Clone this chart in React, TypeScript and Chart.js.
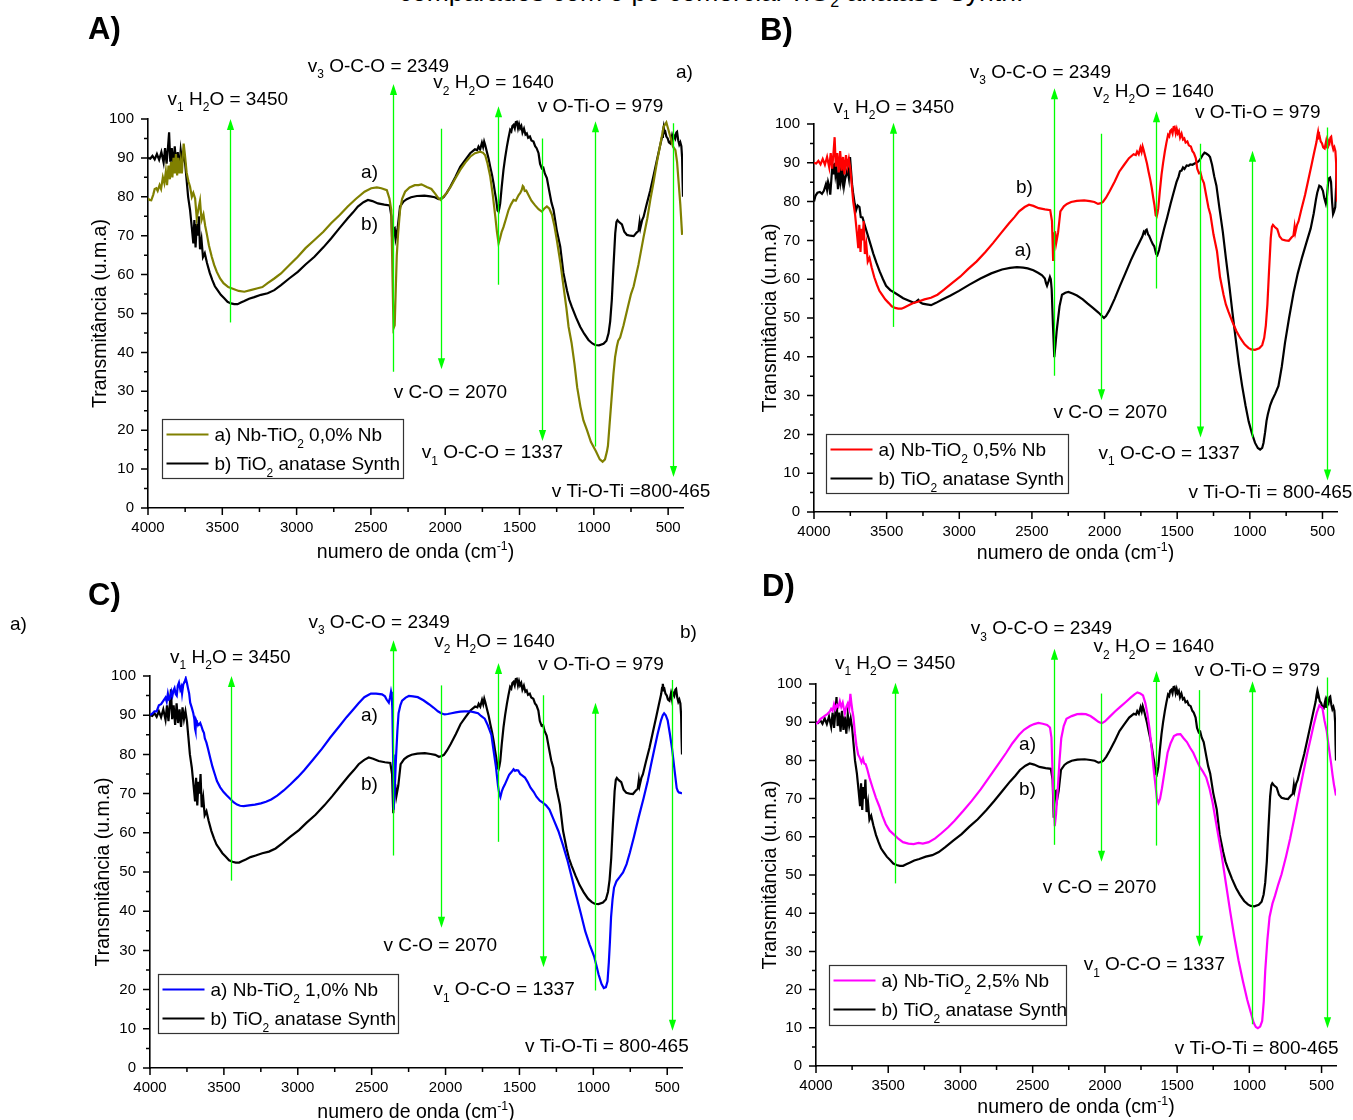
import React, { useEffect, useRef } from 'react';
import { Chart, registerables } from 'chart.js';

Chart.register(...registerables);

const FONT = 'Arial, "Liberation Sans", Helvetica, sans-serif';
const GREEN = '#00ff00';

// ---------------- data ----------------
const xTickValues = [4000, 3500, 3000, 2500, 2000, 1500, 1000, 500];
const yTickValues = [0, 10, 20, 30, 40, 50, 60, 70, 80, 90, 100];

// b) TiO2 anatase Synth (wavenumber, transmittance)
const anatase: [number, number][] = [
  [4000,90],[3985,89.8],[3970,90.5],[3955,89.6],[3940,91],[3925,89.5],[3910,91.5],[3895,88.8],[3885,92.5],[3875,88.5],
  [3865,93],[3858,96.6],[3850,89],[3840,92.5],[3830,87.5],[3820,93],[3810,88],[3800,91.5],[3790,87],[3780,92],
  [3770,89],[3760,91],[3750,88.5],[3740,84.3],[3730,80],[3717,76.6],[3705,72],[3695,68],[3688,74],[3680,67],
  [3672,73],[3665,70],[3658,75],[3650,66.5],[3640,69],[3630,64.5],[3618,65.5],[3603,63],[3585,60.5],[3567,58.6],
  [3550,57],[3532,56],[3510,54.8],[3487,53.9],[3465,53],[3442,52.6],[3420,52.4],[3397,52.4],[3375,52.8],[3352,53.2],
  [3320,53.8],[3285,54.2],[3240,54.8],[3195,55.2],[3150,56],[3105,57.3],[3050,59],[2992,60.7],[2940,62.6],[2880,64.6],
  [2820,67],[2768,69.3],[2710,72],[2656,74.5],[2620,76],[2588,77.5],[2550,78.6],[2520,79.2],[2490,78.9],[2453,78.3],
  [2410,78],[2374,77.8],[2362,75],[2354,65],[2348,71.8],[2340,72],[2333,69.3],[2320,72],[2304,77.5],[2280,78.8],
  [2259,79.4],[2230,79.9],[2191,80.2],[2140,80.3],[2101,80.1],[2070,79.9],[2045,79.4],[2025,79.6],[2011,79.9],[1990,81],
  [1966,82.6],[1930,85.2],[1899,87.7],[1865,89.5],[1832,91.2],[1800,92.2],[1785,92],[1776,92.9],[1765,92.2],[1753,93.9],
  [1745,92.8],[1738,94.2],[1731,93.3],[1720,91.6],[1708,89.8],[1697,87.7],[1685,85.6],[1675,83.5],[1665,81],[1657,79.2],
  [1648,76.5],[1641,76.2],[1636,77],[1630,78.3],[1620,82.5],[1608,86.9],[1597,90],[1585,92.9],[1575,95],[1563,97.2],
  [1555,96.8],[1548,98.2],[1540,98.5],[1532,97.6],[1525,99.2],[1518,99.3],[1510,97.6],[1503,98.7],[1496,97.6],[1488,98.2],
  [1480,96.5],[1470,97.5],[1460,96],[1451,96.3],[1442,95.2],[1430,95.5],[1420,94.5],[1406,94.2],[1395,93],[1385,92.5],
  [1372,91.2],[1362,88.5],[1350,87.3],[1340,87.5],[1330,86],[1316,84.8],[1300,81.5],[1285,78.5],[1271,76.6],[1250,71.5],
  [1226,67.2],[1205,60.5],[1181,56],[1165,53.5],[1148,51.7],[1120,49],[1092,46.6],[1065,44.8],[1036,43.2],[1010,42.3],
  [991,41.9],[965,41.8],[935,42.2],[915,43],[901,44.9],[890,48],[879,53.5],[868,62],[856,70.6],[848,73.5],
  [841,74],[830,73.5],[811,72.9],[795,71],[777,70.2],[755,70],[732,69.9],[712,70.8],[700,71.2],[692,73.5],
  [687,72],[675,74],[665,74.9],[645,78],[620,81.7],[598,85.5],[575,89.5],[558,92.5],[541,95.4],[535,97],
  [530,98],[524,96.5],[519,96.7],[512,95.5],[503,95],[495,94],[485,93.7],[475,95.5],[468,94],[463,95.9],
  [452,95],[445,96.5],[440,96.7],[432,94.5],[425,93.4],[418,94],[411,93],[406,90],[403,84],[400,80]
];

// a) Nb-TiO2 0,0% Nb
const nb00: [number, number][] = [
  [4000,79.6],[3990,79.2],[3978,79.1],[3965,80.5],[3955,82],[3944,82.2],[3935,81.5],[3922,83],[3912,82],[3900,85],
  [3890,83.5],[3880,86.5],[3872,83],[3862,88],[3853,84.5],[3845,89],[3836,85],[3828,90],[3820,86],[3812,91],
  [3804,85.5],[3796,90],[3788,86],[3780,89],[3772,86],[3765,91],[3760,93.7],[3752,91],[3740,86.2],[3728,84],
  [3717,82.6],[3705,80],[3695,81],[3683,79.6],[3672,74.5],[3660,77],[3650,79],[3640,74],[3627,75.5],[3615,72.5],
  [3605,70.6],[3590,67.5],[3571,64.6],[3555,62.5],[3537,60.7],[3515,59],[3492,57.8],[3460,56.8],[3425,56.3],[3390,55.8],
  [3352,55.6],[3310,56],[3262,56.5],[3230,56.8],[3195,57.8],[3150,59],[3105,60.3],[3050,62.4],[2992,64.6],[2940,66.8],
  [2880,68.9],[2820,71],[2768,73.2],[2710,75.3],[2656,77.5],[2600,79.5],[2543,81.3],[2498,82.2],[2460,82.4],[2430,82.2],
  [2393,81.7],[2375,79.5],[2363,76.6],[2355,60],[2348,46.2],[2340,47],[2333,56],[2326,64.9],[2318,70],[2304,76.6],
  [2290,79.5],[2270,81.3],[2240,82.4],[2205,83],[2180,83],[2160,83.2],[2124,82.5],[2093,82],[2068,80.8],[2045,79.6],
  [2030,79.2],[2011,80.1],[1990,81],[1966,82.4],[1935,84.5],[1899,86.9],[1865,88.8],[1832,90.3],[1800,91.2],[1764,91.6],
  [1745,91.3],[1731,90.7],[1715,88.5],[1697,85.2],[1680,80.5],[1663,74.9],[1652,71],[1641,68],[1630,69.5],[1620,71],
  [1608,72.2],[1590,74.5],[1574,76.6],[1558,78],[1540,79.2],[1525,79],[1507,80.4],[1495,81],[1485,81.8],[1478,82.8],
  [1473,82.6],[1465,81.5],[1455,81.6],[1439,80.4],[1420,79],[1395,77.8],[1372,76.8],[1350,76.2],[1333,77],[1316,77.5],
  [1300,77],[1282,75.4],[1265,72.5],[1249,68.9],[1225,63],[1204,56.9],[1185,51.5],[1170,46.6],[1150,42.5],[1130,37],
  [1112,31],[1090,26],[1070,22.5],[1046,20],[1020,17],[986,14.6],[960,12.5],[941,11.9],[925,12.5],[912,14.5],
  [905,16],[895,21],[881,28],[868,34.5],[857,38.8],[845,41.5],[836,43],[823,43.8],[800,47],[775,51],
  [750,55],[732,57],[700,62.5],[665,69.7],[640,74.5],[620,79.2],[597,84],[575,89],[552,93.6],[530,98],
  [512,99.1],[500,97.5],[485,95.4],[468,93],[451,92],[440,89],[429,83.5],[418,78],[406,70.2]
];

// a) Nb-TiO2 0,5% Nb (black curve of panel B)
const nb05: [number, number][] = [
  [4000,80],[3990,81.5],[3976,82.3],[3960,82.5],[3945,82],[3932,82.8],[3918,84.5],[3910,83],[3903,85.1],[3895,84],
  [3888,81.8],[3880,86],[3873,89.7],[3865,87],[3858,90],[3852,86.9],[3845,88.5],[3835,83.2],[3828,87],[3820,85],
  [3814,87.8],[3806,85.5],[3800,88.5],[3793,84.1],[3785,86],[3777,87],[3770,88.3],[3760,86],[3752,91.5],[3745,88],
  [3738,84.5],[3731,82.3],[3720,79.5],[3711,77.7],[3700,79],[3687,78.6],[3678,76],[3666,75.9],[3655,74.5],[3637,72.2],
  [3615,69.5],[3592,66.6],[3570,64.2],[3548,62],[3525,60],[3504,58.3],[3475,57.2],[3445,56.5],[3415,55.8],[3386,55.1],
  [3350,54.5],[3312,53.9],[3295,54.3],[3282,54.7],[3268,54],[3253,53.7],[3225,53.5],[3194,53.3],[3160,53.9],[3120,54.7],
  [3060,55.8],[3002,57],[2930,58.6],[2854,60.2],[2780,61.5],[2706,62.5],[2650,62.9],[2603,63.1],[2560,63],[2529,62.8],
  [2490,62.3],[2455,61.6],[2430,61],[2411,60.2],[2403,59],[2396,58.3],[2385,59.5],[2376,60.6],[2370,60],[2364,57.4],
  [2355,48],[2346,39.9],[2338,43],[2330,46.5],[2322,49.1],[2310,53],[2293,56],[2270,56.5],[2249,56.7],[2220,56.3],
  [2190,55.8],[2150,54.8],[2116,53.7],[2080,52.6],[2042,51.4],[2020,50.6],[2004,50],[1990,50.5],[1968,51.9],[1930,55],
  [1894,58.3],[1857,61.5],[1820,64.8],[1790,67.2],[1761,69.4],[1740,71],[1730,72.2],[1722,71.8],[1717,72.6],[1710,72.8],
  [1700,71.5],[1693,71.2],[1680,70],[1668,69],[1658,68.5],[1645,66.5],[1637,66.2],[1625,67.5],[1614,69.4],[1590,73],
  [1569,75.9],[1545,79.5],[1525,82.3],[1505,85],[1490,86.5],[1481,87.8],[1470,88],[1460,88.8],[1450,88.4],[1435,89.3],
  [1422,89.2],[1410,89.6],[1395,89.5],[1377,89.9],[1360,90.2],[1348,90.6],[1335,91.3],[1325,92],[1312,92.6],[1300,92.4],
  [1285,92],[1274,91.5],[1260,89.5],[1245,86.5],[1230,84.1],[1210,78.5],[1186,72.2],[1165,65.5],[1141,58.3],[1120,51.5],
  [1097,44.5],[1075,38],[1053,32.5],[1030,27.5],[1008,23.3],[985,20.2],[964,17.8],[945,16.5],[929,16.1],[915,16.5],
  [906,17.8],[895,20.5],[885,23.5],[876,25.2],[860,27.5],[847,28.8],[825,30.5],[803,32.5],[780,37.5],[758,43.6],
  [730,50],[699,56.5],[670,61.5],[640,65.7],[610,69.5],[581,73.1],[560,77],[545,80.5],[536,82.3],[522,84.1],
  [510,83.8],[497,82.8],[488,81],[477,79.5],[470,81],[462,84.5],[456,86],[448,86.2],[441,85.1],[434,80],
  [427,76.8],[420,77.5],[412,78.6],[406,84],[400,90]
];

// a) Nb-TiO2 1,0% Nb
const nb10: [number, number][] = [
  [4000,90],[3985,90.4],[3970,91],[3955,91],[3940,92.5],[3925,92.8],[3909,93.7],[3895,94.5],[3887,93.5],[3879,95.5],
  [3871,94],[3864,94.2],[3855,96],[3848,95],[3840,96.4],[3834,96.9],[3826,95.4],[3819,95],[3812,97.5],[3804,98.3],
  [3795,96.5],[3788,97.2],[3783,95.5],[3775,97.8],[3765,98.6],[3758,99.4],[3750,98.2],[3743,96.9],[3735,95.5],[3728,93.2],
  [3718,92],[3707,90.5],[3700,89],[3695,86.5],[3692,86],[3688,88.7],[3683,88.2],[3670,87.5],[3660,88],[3653,87.3],
  [3642,86],[3635,85.5],[3629,84.1],[3618,83],[3607,81.4],[3592,79],[3577,76.8],[3562,75],[3547,73.2],[3525,71.6],
  [3502,70.4],[3480,69.5],[3456,68.6],[3435,67.8],[3411,67.2],[3390,66.9],[3366,66.8],[3330,67],[3290,67.2],[3250,67.5],
  [3215,67.9],[3180,68.5],[3139,69.5],[3095,70.8],[3049,72.4],[3000,74.2],[2958,75.9],[2900,78.5],[2837,81.4],[2780,84.3],
  [2716,87.3],[2670,89.5],[2626,91.4],[2590,93],[2550,94.6],[2520,95.2],[2505,95.5],[2470,95.5],[2430,95.3],[2410,94.8],
  [2399,94],[2390,93.5],[2384,93.2],[2376,94.5],[2369,96],[2364,95],[2360,91.4],[2355,80],[2351,65.9],[2345,70],
  [2336,78.6],[2326,86],[2318,90.5],[2306,92.5],[2294,93.7],[2270,94.5],[2248,94.9],[2220,94.8],[2188,94.6],[2150,93.8],
  [2112,92.8],[2080,91.9],[2052,91],[2030,90.5],[2007,90.2],[1985,90.3],[1960,90.5],[1931,90.7],[1900,90.9],[1870,91],
  [1840,91],[1810,90.8],[1780,90.5],[1760,89.8],[1735,89.1],[1715,87.5],[1700,86],[1690,85],[1675,81],[1659,76.8],
  [1645,72],[1637,70],[1629,69.1],[1620,70.5],[1610,71.5],[1599,72.3],[1585,73.5],[1570,74.8],[1554,75.5],[1540,76.2],
  [1530,75.8],[1520,76],[1508,75.9],[1495,75],[1480,74.6],[1463,74.1],[1445,73],[1425,71.5],[1403,70.4],[1385,69.2],
  [1362,68.2],[1342,67.7],[1320,67],[1297,65.9],[1270,63.5],[1236,60.4],[1205,56.8],[1176,53.1],[1145,48.5],[1116,44],
  [1085,39.5],[1055,34.9],[1025,31.5],[995,28.5],[980,26.3],[965,23.9],[945,21.5],[929,20.4],[915,20.6],[904,22.1],
  [895,27],[888,32],[880,38.5],[870,43],[860,46],[844,47.6],[820,48.8],[799,49.9],[775,52],[753,54.9],
  [725,59],[693,64],[660,68.8],[632,73.2],[610,77.3],[587,81.4],[565,85.2],[542,88.7],[530,90],[521,90.5],
  [510,90],[497,88.7],[482,85.2],[467,81.4],[452,76.5],[436,71.4],[428,70.6],[421,70.3],[410,70.2],[400,70]
];

// a) Nb-TiO2 2,5% Nb
const nb25: [number, number][] = [
  [4000,89.5],[3985,90],[3970,90.8],[3949,91.4],[3935,91.8],[3920,92.2],[3905,92.8],[3895,93.5],[3885,93],[3875,94.7],
  [3865,93.5],[3855,94.5],[3845,94],[3835,95.5],[3825,94],[3815,95.1],[3807,93.5],[3800,92.3],[3790,94],[3780,94.9],
  [3770,93.5],[3762,97.4],[3755,95],[3748,93],[3741,91.4],[3730,87],[3720,83.9],[3708,81.5],[3696,80.6],[3685,79.5],
  [3675,80.5],[3666,79.2],[3656,79],[3646,77.8],[3630,75.5],[3607,72.7],[3585,70.2],[3562,68],[3540,65.5],[3517,63.3],
  [3490,61.6],[3458,60.5],[3430,59.5],[3398,58.6],[3360,58.2],[3324,58.1],[3290,58.4],[3260,58.2],[3220,58.6],[3175,59.6],
  [3130,61],[3085,62.5],[3041,64.2],[2980,66.8],[2922,69.4],[2860,72.4],[2803,75.5],[2740,78.9],[2683,82],[2640,84.5],
  [2594,86.7],[2560,88],[2520,89],[2490,89.5],[2460,89.8],[2430,89.6],[2400,89.3],[2380,88.6],[2370,86],[2365,80.1],
  [2356,70],[2347,62.8],[2338,66],[2326,72.7],[2314,80],[2302,85.8],[2285,89],[2266,90.9],[2230,91.6],[2192,92.1],
  [2160,92.2],[2132,92.1],[2100,91.6],[2073,90.9],[2045,90.1],[2022,89.7],[2000,90.2],[1968,91.4],[1930,92.8],[1894,94],
  [1855,95.3],[1820,96.5],[1795,97.3],[1775,97.8],[1755,97.5],[1736,97],[1720,95],[1706,92.3],[1690,88],[1676,83],
  [1662,77.5],[1650,73.6],[1640,70],[1629,68.9],[1618,70],[1605,72.7],[1585,77.5],[1566,82],[1545,84.5],[1522,86.4],
  [1500,86.8],[1477,86.9],[1455,85.8],[1432,84.8],[1410,83.3],[1388,82],[1365,80],[1343,78.3],[1320,77],[1298,75.5],
  [1275,72.5],[1254,68.9],[1225,62.5],[1194,55.8],[1165,48.5],[1134,40.8],[1105,34],[1075,27.7],[1045,22.3],[1015,17.4],
  [990,14],[970,11.3],[955,10.2],[941,9.9],[925,10.3],[911,11.8],[900,17],[890,24.9],[875,33],[860,39],
  [840,42.5],[822,44.6],[800,47.5],[777,50.2],[745,55],[717,59.6],[688,65],[658,70.8],[628,76.5],[598,82],
  [575,85.8],[553,89.5],[533,92.5],[515,94.4],[505,94],[494,93.7],[480,90.5],[464,87.6],[450,83.5],[434,79.2],
  [424,76.2],[414,73.6],[400,70.8]
];

// ---------------- text helpers ----------------
type Seg = [string, number]; // 0 normal, 1 subscript, 2 superscript

const T_V1H2O: Seg[] = [['v', 0], ['1', 1], [' H', 0], ['2', 1], ['O = 3450', 0]];
const T_V3OCO: Seg[] = [['v', 0], ['3', 1], [' O-C-O = 2349', 0]];
const T_V2H2O: Seg[] = [['v', 0], ['2', 1], [' H', 0], ['2', 1], ['O = 1640', 0]];
const T_VOTIO: Seg[] = [['v O-Ti-O = 979', 0]];
const T_VCO: Seg[] = [['v C-O = 2070', 0]];
const T_V1OCO: Seg[] = [['v', 0], ['1', 1], [' O-C-O = 1337', 0]];
const T_VTIOTI: Seg[] = [['v Ti-O-Ti = 800-465', 0]];
const T_VTIOTI_A: Seg[] = [['v Ti-O-Ti =800-465', 0]];
const T_A: Seg[] = [['a)', 0]];
const T_B: Seg[] = [['b)', 0]];
const T_XTITLE: Seg[] = [['numero de onda (cm', 0], ['-1', 2], [')', 0]];
const T_ANATASE: Seg[] = [['b) TiO', 0], ['2', 1], [' anatase Synth', 0]];
const nbName = (p: string): Seg[] => [['a) Nb-TiO', 0], ['2', 1], [' ' + p + '% Nb', 0]];

function fontFor(k: number, size: number) {
  return `${k ? size * 0.63 : size}px ${FONT}`;
}
function richWidth(ctx: CanvasRenderingContext2D, segs: Seg[], size: number) {
  let w = 0;
  for (const [t, k] of segs) {
    ctx.font = fontFor(k, size);
    w += ctx.measureText(t).width;
  }
  return w;
}
function drawRich(ctx: CanvasRenderingContext2D, segs: Seg[], x: number, yMid: number, size: number) {
  let cx = x;
  const base = yMid + size * 0.36;
  ctx.textAlign = 'left';
  ctx.textBaseline = 'alphabetic';
  for (const [t, k] of segs) {
    ctx.font = fontFor(k, size);
    const dy = k === 1 ? size * 0.33 : k === 2 ? -size * 0.42 : 0;
    ctx.fillText(t, cx, base + dy);
    cx += ctx.measureText(t).width;
  }
}

// ---------------- panel configs ----------------
type Label = { segs: Seg[]; wn: number; t: number };
type Panel = {
  key: string; left: number; top: number; w: number; h: number;
  area: { l: number; t: number; r: number; b: number };
  yW: number; xH: number; xTitleDy: number;
  series: { data: [number, number][]; color: string }[];
  legend: { dx: number; db: number; w: number; h: number; names: Seg[][]; colors: string[] };
  arrows: [number, number, number][]; // wavenumber, tail, head
  labels: Label[];
};

const OLIVE = '#808000';
const RED = '#ff0000';
const BLUE = '#0000ff';
const MAGENTA = '#ff00ff';
const BLACK = '#000000';

const panels: Panel[] = [
  {
    key: 'A', left: 0, top: 0, w: 720, h: 562,
    area: { l: 148, t: 119, r: 683, b: 508 }, yW: 59, xH: 54, xTitleDy: 43,
    series: [{ data: nb00, color: OLIVE }, { data: anatase, color: BLACK }],
    legend: { dx: 14, db: 30, w: 241, h: 59, names: [nbName('0,0'), T_ANATASE], colors: [OLIVE, BLACK] },
    arrows: [[3451, 47.7, 100], [2350, 35, 109], [2030, 97.5, 35.7], [1646, 57.4, 103.3], [1346, 95, 17.2], [992, 15.8, 99.4], [470, 98.9, 8]],
    labels: [
      { segs: T_V1H2O, wn: 3868, t: 105.3 }, { segs: T_V3OCO, wn: 2925, t: 113.9 },
      { segs: T_V2H2O, wn: 2080, t: 109.6 }, { segs: T_VOTIO, wn: 1377, t: 103.6 },
      { segs: T_VCO, wn: 2347, t: 30 }, { segs: T_V1OCO, wn: 2158, t: 14.5 },
      { segs: T_VTIOTI_A, wn: 1283, t: 4.6 }, { segs: T_A, wn: 2566, t: 86.6 }, { segs: T_B, wn: 2566, t: 73.3 }
    ]
  },
  {
    key: 'B', left: 690, top: 0, w: 663, h: 562,
    area: { l: 124, t: 124, r: 647, b: 512 }, yW: 55, xH: 50, xTitleDy: 40,
    series: [{ data: anatase, color: RED }, { data: nb05, color: BLACK }],
    legend: { dx: 12, db: 19, w: 242, h: 59, names: [nbName('0,5'), T_ANATASE], colors: [RED, BLACK] },
    arrows: [[3454, 47.7, 100.3], [2349, 35.1, 109.2], [2027, 97.5, 28.8], [1643, 57.6, 103.3], [1342, 94.9, 19.2], [988, 19.2, 93.1], [468, 99.1, 8.1]],
    labels: [
      { segs: T_V1H2O, wn: 3865, t: 104.6 }, { segs: T_V3OCO, wn: 2928, t: 113.6 },
      { segs: T_V2H2O, wn: 2077, t: 108.8 }, { segs: T_VOTIO, wn: 1377, t: 103.2 },
      { segs: T_VCO, wn: 2352, t: 26.1 }, { segs: T_V1OCO, wn: 2042, t: 15.5 },
      { segs: T_VTIOTI, wn: 1422, t: 5.3 }, { segs: T_B, wn: 2610, t: 83.9 }, { segs: T_A, wn: 2618, t: 67.7 }
    ]
  },
  {
    key: 'C', left: 0, top: 562, w: 720, h: 558,
    area: { l: 150, t: 114, r: 682, b: 506 }, yW: 58, xH: 52, xTitleDy: 43,
    series: [{ data: nb10, color: BLUE }, { data: anatase, color: BLACK }],
    legend: { dx: 8, db: 35, w: 240, h: 59, names: [nbName('1,0'), T_ANATASE], colors: [BLUE, BLACK] },
    arrows: [[3450, 47.8, 100], [2354, 54.2, 109.1], [2028, 97.6, 35.8], [1644, 57.7, 103.3], [1342, 95.1, 25.7], [989, 19.8, 93.2], [466, 99, 9.5]],
    labels: [
      { segs: T_V1H2O, wn: 3864, t: 105.1 }, { segs: T_V3OCO, wn: 2928, t: 114 },
      { segs: T_V2H2O, wn: 2076, t: 109.2 }, { segs: T_VOTIO, wn: 1372, t: 103.3 },
      { segs: T_VCO, wn: 2420, t: 31.7 }, { segs: T_V1OCO, wn: 2082, t: 20.3 },
      { segs: T_VTIOTI, wn: 1463, t: 5.7 }, { segs: T_A, wn: 2572, t: 90.2 }, { segs: T_B, wn: 2572, t: 72.7 }
    ]
  },
  {
    key: 'D', left: 690, top: 562, w: 663, h: 558,
    area: { l: 126, t: 122, r: 646, b: 504 }, yW: 57, xH: 54, xTitleDy: 40,
    series: [{ data: nb25, color: MAGENTA }, { data: anatase, color: BLACK }],
    legend: { dx: 13, db: 41, w: 237, h: 60, names: [nbName('2,5'), T_ANATASE], colors: [MAGENTA, BLACK] },
    arrows: [[3452, 47.8, 100.3], [2350, 57.9, 109.2], [2028, 97.5, 53.5], [1647, 57.7, 103.4], [1349, 98.4, 31.2], [985, 10.9, 100.7], [464, 101.7, 9.9]],
    labels: [
      { segs: T_V1H2O, wn: 3869, t: 105.7 }, { segs: T_V3OCO, wn: 2928, t: 114.8 },
      { segs: T_V2H2O, wn: 2079, t: 110.1 }, { segs: T_VOTIO, wn: 1379, t: 104 },
      { segs: T_VCO, wn: 2430, t: 47.2 }, { segs: T_V1OCO, wn: 2147, t: 26.8 },
      { segs: T_VTIOTI, wn: 1516, t: 5 }, { segs: T_A, wn: 2594, t: 84.4 }, { segs: T_B, wn: 2594, t: 72.7 }
    ]
  }
];

// ---------------- plugin ----------------
function makePlugin(p: Panel) {
  return {
    id: 'ftirDecor' + p.key,
    afterDatasetsDraw(chart: any) {
      const { ctx, chartArea: ca, scales } = chart;
      const x = scales.x, y = scales.y;
      ctx.save();
      // arrows
      ctx.strokeStyle = GREEN;
      ctx.fillStyle = GREEN;
      ctx.lineWidth = 1.3;
      for (const [wn, tail, head] of p.arrows) {
        const px = Math.round(x.getPixelForValue(wn)) + 0.5;
        const pt = y.getPixelForValue(tail);
        const ph = y.getPixelForValue(head);
        const dir = ph < pt ? -1 : 1;
        const hl = 11, hw = 3.6;
        ctx.beginPath();
        ctx.moveTo(px, pt);
        ctx.lineTo(px, ph - dir * hl * 0.5);
        ctx.stroke();
        ctx.beginPath();
        ctx.moveTo(px, ph);
        ctx.lineTo(px - hw, ph - dir * hl);
        ctx.lineTo(px + hw, ph - dir * hl);
        ctx.closePath();
        ctx.fill();
      }
      // labels
      ctx.fillStyle = '#000';
      for (const lab of p.labels) {
        drawRich(ctx, lab.segs, x.getPixelForValue(lab.wn), y.getPixelForValue(lab.t), 19);
      }
      // legend
      const lg = p.legend;
      const bx = Math.round(ca.left + lg.dx) + 0.5;
      const by = Math.round(ca.bottom - lg.db - lg.h) + 0.5;
      ctx.fillStyle = '#fff';
      ctx.fillRect(bx, by, lg.w, lg.h);
      ctx.strokeStyle = '#333';
      ctx.lineWidth = 1.2;
      ctx.strokeRect(bx, by, lg.w, lg.h);
      lg.names.forEach((segs, i) => {
        const ry = by + 15 + i * 29;
        ctx.strokeStyle = lg.colors[i];
        ctx.lineWidth = 2.2;
        ctx.beginPath();
        ctx.moveTo(bx + 4, ry);
        ctx.lineTo(bx + 46, ry);
        ctx.stroke();
        ctx.fillStyle = '#000';
        drawRich(ctx, segs, bx + 52, ry, 19);
      });
      // x title
      const tw = richWidth(ctx, T_XTITLE, 19.5);
      ctx.fillStyle = '#000';
      drawRich(ctx, T_XTITLE, (ca.left + ca.right) / 2 - tw / 2, ca.bottom + p.xTitleDy, 19.5);
      ctx.restore();
    },
    afterDraw(chart: any) {
      const { ctx, chartArea: ca, scales } = chart;
      const x = scales.x, y = scales.y;
      ctx.save();
      ctx.strokeStyle = '#000';
      ctx.lineWidth = 1.5;
      ctx.beginPath();
      for (let v = 4000; v >= 500; v -= 250) {
        const px = x.getPixelForValue(v);
        const len = v % 500 === 0 ? 7 : 4;
        ctx.moveTo(px, ca.bottom);
        ctx.lineTo(px, ca.bottom + len);
      }
      for (let v = 0; v <= 100; v += 5) {
        const py = y.getPixelForValue(v);
        const len = v % 10 === 0 ? 7 : 4;
        ctx.moveTo(ca.left, py);
        ctx.lineTo(ca.left - len, py);
      }
      ctx.stroke();
      ctx.restore();
    }
  };
}

function PanelChart({ p }: { p: Panel }) {
  const ref = useRef<HTMLCanvasElement>(null);
  useEffect(() => {
    const canvas = ref.current!;
    const chart = new Chart(canvas, {
      type: 'line',
      data: {
        datasets: p.series.map((s) => ({
          data: s.data.map(([wx, ty]) => ({ x: wx, y: ty })),
          borderColor: s.color,
          backgroundColor: s.color,
          borderWidth: 2.2,
          pointRadius: 0,
          tension: 0,
          fill: false
        }))
      },
      options: {
        animation: false,
        responsive: false,
        maintainAspectRatio: false,
        events: [],
        layout: {
          padding: {
            left: p.area.l - p.yW,
            top: p.area.t,
            right: p.w - p.area.r,
            bottom: p.h - p.area.b - p.xH
          }
        },
        plugins: { legend: { display: false }, tooltip: { enabled: false }, title: { display: false } },
        scales: {
          x: {
            type: 'linear',
            reverse: true,
            min: 400,
            max: 4000,
            afterBuildTicks: (s: any) => { s.ticks = xTickValues.map((v) => ({ value: v })); },
            afterFit: (s: any) => { s.height = p.xH; },
            grid: { display: false, drawTicks: false },
            border: { display: true, color: '#000', width: 1.6 },
            ticks: {
              color: '#000',
              font: { family: FONT, size: 15 },
              padding: 11,
              maxRotation: 0,
              autoSkip: false,
              callback: (v: any) => String(v)
            }
          },
          y: {
            type: 'linear',
            min: 0,
            max: 100,
            afterBuildTicks: (s: any) => { s.ticks = yTickValues.map((v) => ({ value: v })); },
            afterFit: (s: any) => { s.width = p.yW; },
            grid: { display: false, drawTicks: false },
            border: { display: true, color: '#000', width: 1.6 },
            title: {
              display: true,
              text: 'Transmitância (u.m.a)',
              color: '#000',
              font: { family: FONT, size: 19.5, lineHeight: 1.2 },
              padding: { top: 0, bottom: 0 }
            },
            ticks: {
              color: '#000',
              font: { family: FONT, size: 15 },
              padding: 14,
              autoSkip: false,
              callback: (v: any) => String(v)
            }
          }
        }
      } as any,
      plugins: [makePlugin(p)]
    });
    return () => chart.destroy();
  }, [p]);
  return (
    <canvas
      ref={ref}
      width={p.w}
      height={p.h}
      style={{ position: 'absolute', left: p.left, top: p.top, width: p.w, height: p.h }}
    />
  );
}

const letterStyle: React.CSSProperties = {
  position: 'absolute', fontFamily: FONT, fontWeight: 'bold', fontSize: 31, lineHeight: '31px', color: '#000', whiteSpace: 'nowrap'
};
const strayStyle: React.CSSProperties = {
  position: 'absolute', fontFamily: FONT, fontSize: 19, lineHeight: '19px', color: '#000', whiteSpace: 'nowrap'
};

export default function App() {
  return (
    <div style={{ position: 'absolute', left: 0, top: 0, width: 1353, height: 1120, overflow: 'hidden', background: '#fff' }}>
      <div style={{ position: 'absolute', left: 0, top: -21, width: 1422, textAlign: 'center', fontFamily: FONT, fontSize: 26.5, lineHeight: '26px', whiteSpace: 'nowrap' }}>
        comparados com o pó comercial TiO<sub style={{ fontSize: 16, verticalAlign: 'baseline', position: 'relative', top: 6 }}>2</sub> anatase Synth.
      </div>
      {panels.map((p) => <PanelChart key={p.key} p={p} />)}
      <div style={{ ...letterStyle, left: 88, top: 13 }}>A)</div>
      <div style={{ ...letterStyle, left: 760, top: 14 }}>B)</div>
      <div style={{ ...letterStyle, left: 88, top: 579 }}>C)</div>
      <div style={{ ...letterStyle, left: 762, top: 570 }}>D)</div>
      <div style={{ ...strayStyle, left: 676, top: 62 }}>a)</div>
      <div style={{ ...strayStyle, left: 10, top: 614 }}>a)</div>
      <div style={{ ...strayStyle, left: 680, top: 622 }}>b)</div>
    </div>
  );
}
